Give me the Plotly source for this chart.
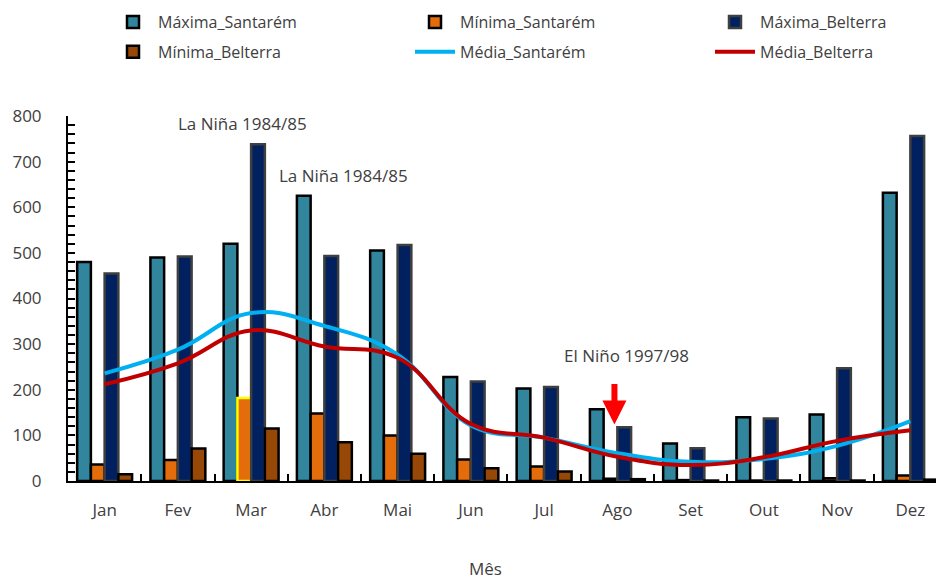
import plotly.graph_objects as go

months = ["Jan", "Fev", "Mar", "Abr", "Mai", "Jun", "Jul", "Ago", "Set", "Out", "Nov", "Dez"]
max_santarem = [480, 490, 520, 625, 505, 228, 203, 157, 82, 140, 146, 632]
min_santarem = [36, 46, 182, 148, 100, 47, 32, 5, 2, 1, 6, 12]
max_belterra = [455, 492, 738, 493, 517, 218, 206, 118, 72, 137, 247, 756]
min_belterra = [15, 71, 115, 85, 60, 28, 21, 4, 1, 1, 1, 3]
media_santarem = [236, 288, 368, 340, 277, 122, 95, 61, 42, 48, 77, 131]
media_belterra = [212, 258, 330, 295, 270, 125, 95, 53, 35, 52, 88, 111]
y_ticks = [0, 100, 200, 300, 400, 500, 600, 700, 800]

TXT = "#404040"
FONT = "Open Sans"

W, H = 936, 580
L, R, T, B = 68, 0, 116, 99
pw = W - L - R
ph = H - T - B

def px_x(p):
    return (p - L) / pw

def px_y(p):
    return (H - B - p) / ph

fig = go.Figure()

min_s_outline = ["black"] * len(months)
min_s_outline[2] = "#FFFF00"

fig.add_trace(go.Bar(x=months, y=max_santarem, name="Máxima_Santarém",
                     marker=dict(color="#31859C", line=dict(color="black", width=2.5)),
                     legend="legend", legendgroup="a"))
fig.add_trace(go.Bar(x=months, y=min_santarem, name="Mínima_Santarém",
                     marker=dict(color="#E46C0A", line=dict(color=min_s_outline, width=2.5)),
                     legend="legend2", legendgroup="c"))
fig.add_trace(go.Bar(x=months, y=max_belterra, name="Máxima_Belterra",
                     marker=dict(color="#002060", line=dict(color="#3F3F3F", width=2.5)),
                     legend="legend3", legendgroup="e"))
fig.add_trace(go.Bar(x=months, y=min_belterra, name="Mínima_Belterra",
                     marker=dict(color="#974806", line=dict(color="black", width=2.5)),
                     legend="legend", legendgroup="b"))
fig.add_trace(go.Scatter(x=months, y=media_santarem, name="Média_Santarém", mode="lines",
                         line=dict(color="#00B0F0", width=4, shape="spline", smoothing=1.2),
                         legend="legend2", legendgroup="d"))
fig.add_trace(go.Scatter(x=months, y=media_belterra, name="Média_Belterra", mode="lines",
                         line=dict(color="#C00000", width=4, shape="spline", smoothing=1.2),
                         legend="legend3", legendgroup="f"))

leg_common = dict(orientation="v", yanchor="top", xanchor="left", y=px_y(5),
                  font=dict(family=FONT, size=16, color=TXT), tracegroupgap=6,
                  bgcolor="rgba(0,0,0,0)", itemwidth=40)

fig.update_layout(
    width=W, height=H,
    margin=dict(l=L, r=R, t=T, b=B, autoexpand=False),
    paper_bgcolor="white", plot_bgcolor="white",
    barmode="group", bargap=0.25, bargroupgap=0,
    font=dict(family=FONT, color=TXT),
    legend=dict(x=px_x(108), **leg_common),
    legend2=dict(x=px_x(410), **leg_common),
    legend3=dict(x=px_x(710), **leg_common),
    xaxis=dict(range=[-0.5, 11.35], showline=True, linecolor="black", linewidth=2,
               ticks="inside", tickson="boundaries", ticklen=7, tickwidth=1.5, tickcolor="black",
               tickfont=dict(family=FONT, size=17, color=TXT), ticklabelstandoff=13,
               showgrid=False, zeroline=False, automargin=False),
    yaxis=dict(range=[0, 800], tickvals=y_ticks, showline=True, linecolor="black", linewidth=2,
               ticks="inside", ticklen=7, tickwidth=1.5, tickcolor="black",
               minor=dict(dtick=20, ticks="inside", ticklen=7, tickwidth=1.5, tickcolor="black"),
               tickfont=dict(family=FONT, size=17, color=TXT), ticklabelstandoff=21,
               showgrid=False, zeroline=False, automargin=False),
    showlegend=True,
)

ann_font = dict(family=FONT, size=17, color=TXT)
fig.add_annotation(x=1.88, y=783, xref="x", yref="y", text="La Niña 1984/85",
                   showarrow=False, font=ann_font)
fig.add_annotation(x=3.26, y=669, xref="x", yref="y", text="La Niña 1984/85",
                   showarrow=False, font=ann_font)
fig.add_annotation(x=7.13, y=276, xref="x", yref="y", text="El Niño 1997/98",
                   showarrow=False, font=ann_font)
fig.add_annotation(x=6.96, y=124, xref="x", yref="y", ax=6.96, ay=216, axref="x", ayref="y",
                   text="", showarrow=True, arrowhead=2, arrowsize=0.8, arrowwidth=6,
                   arrowcolor="#FF0000", standoff=0)
fig.add_annotation(x=px_x(485), y=px_y(568), xref="paper", yref="paper", text="Mês",
                   xanchor="center", yanchor="middle",
                   showarrow=False, font=dict(family=FONT, size=17, color=TXT))

fig.write_html("out.html", config={"displayModeBar": False},
               post_script="document.body.style.margin='0';document.body.style.padding='0';")
